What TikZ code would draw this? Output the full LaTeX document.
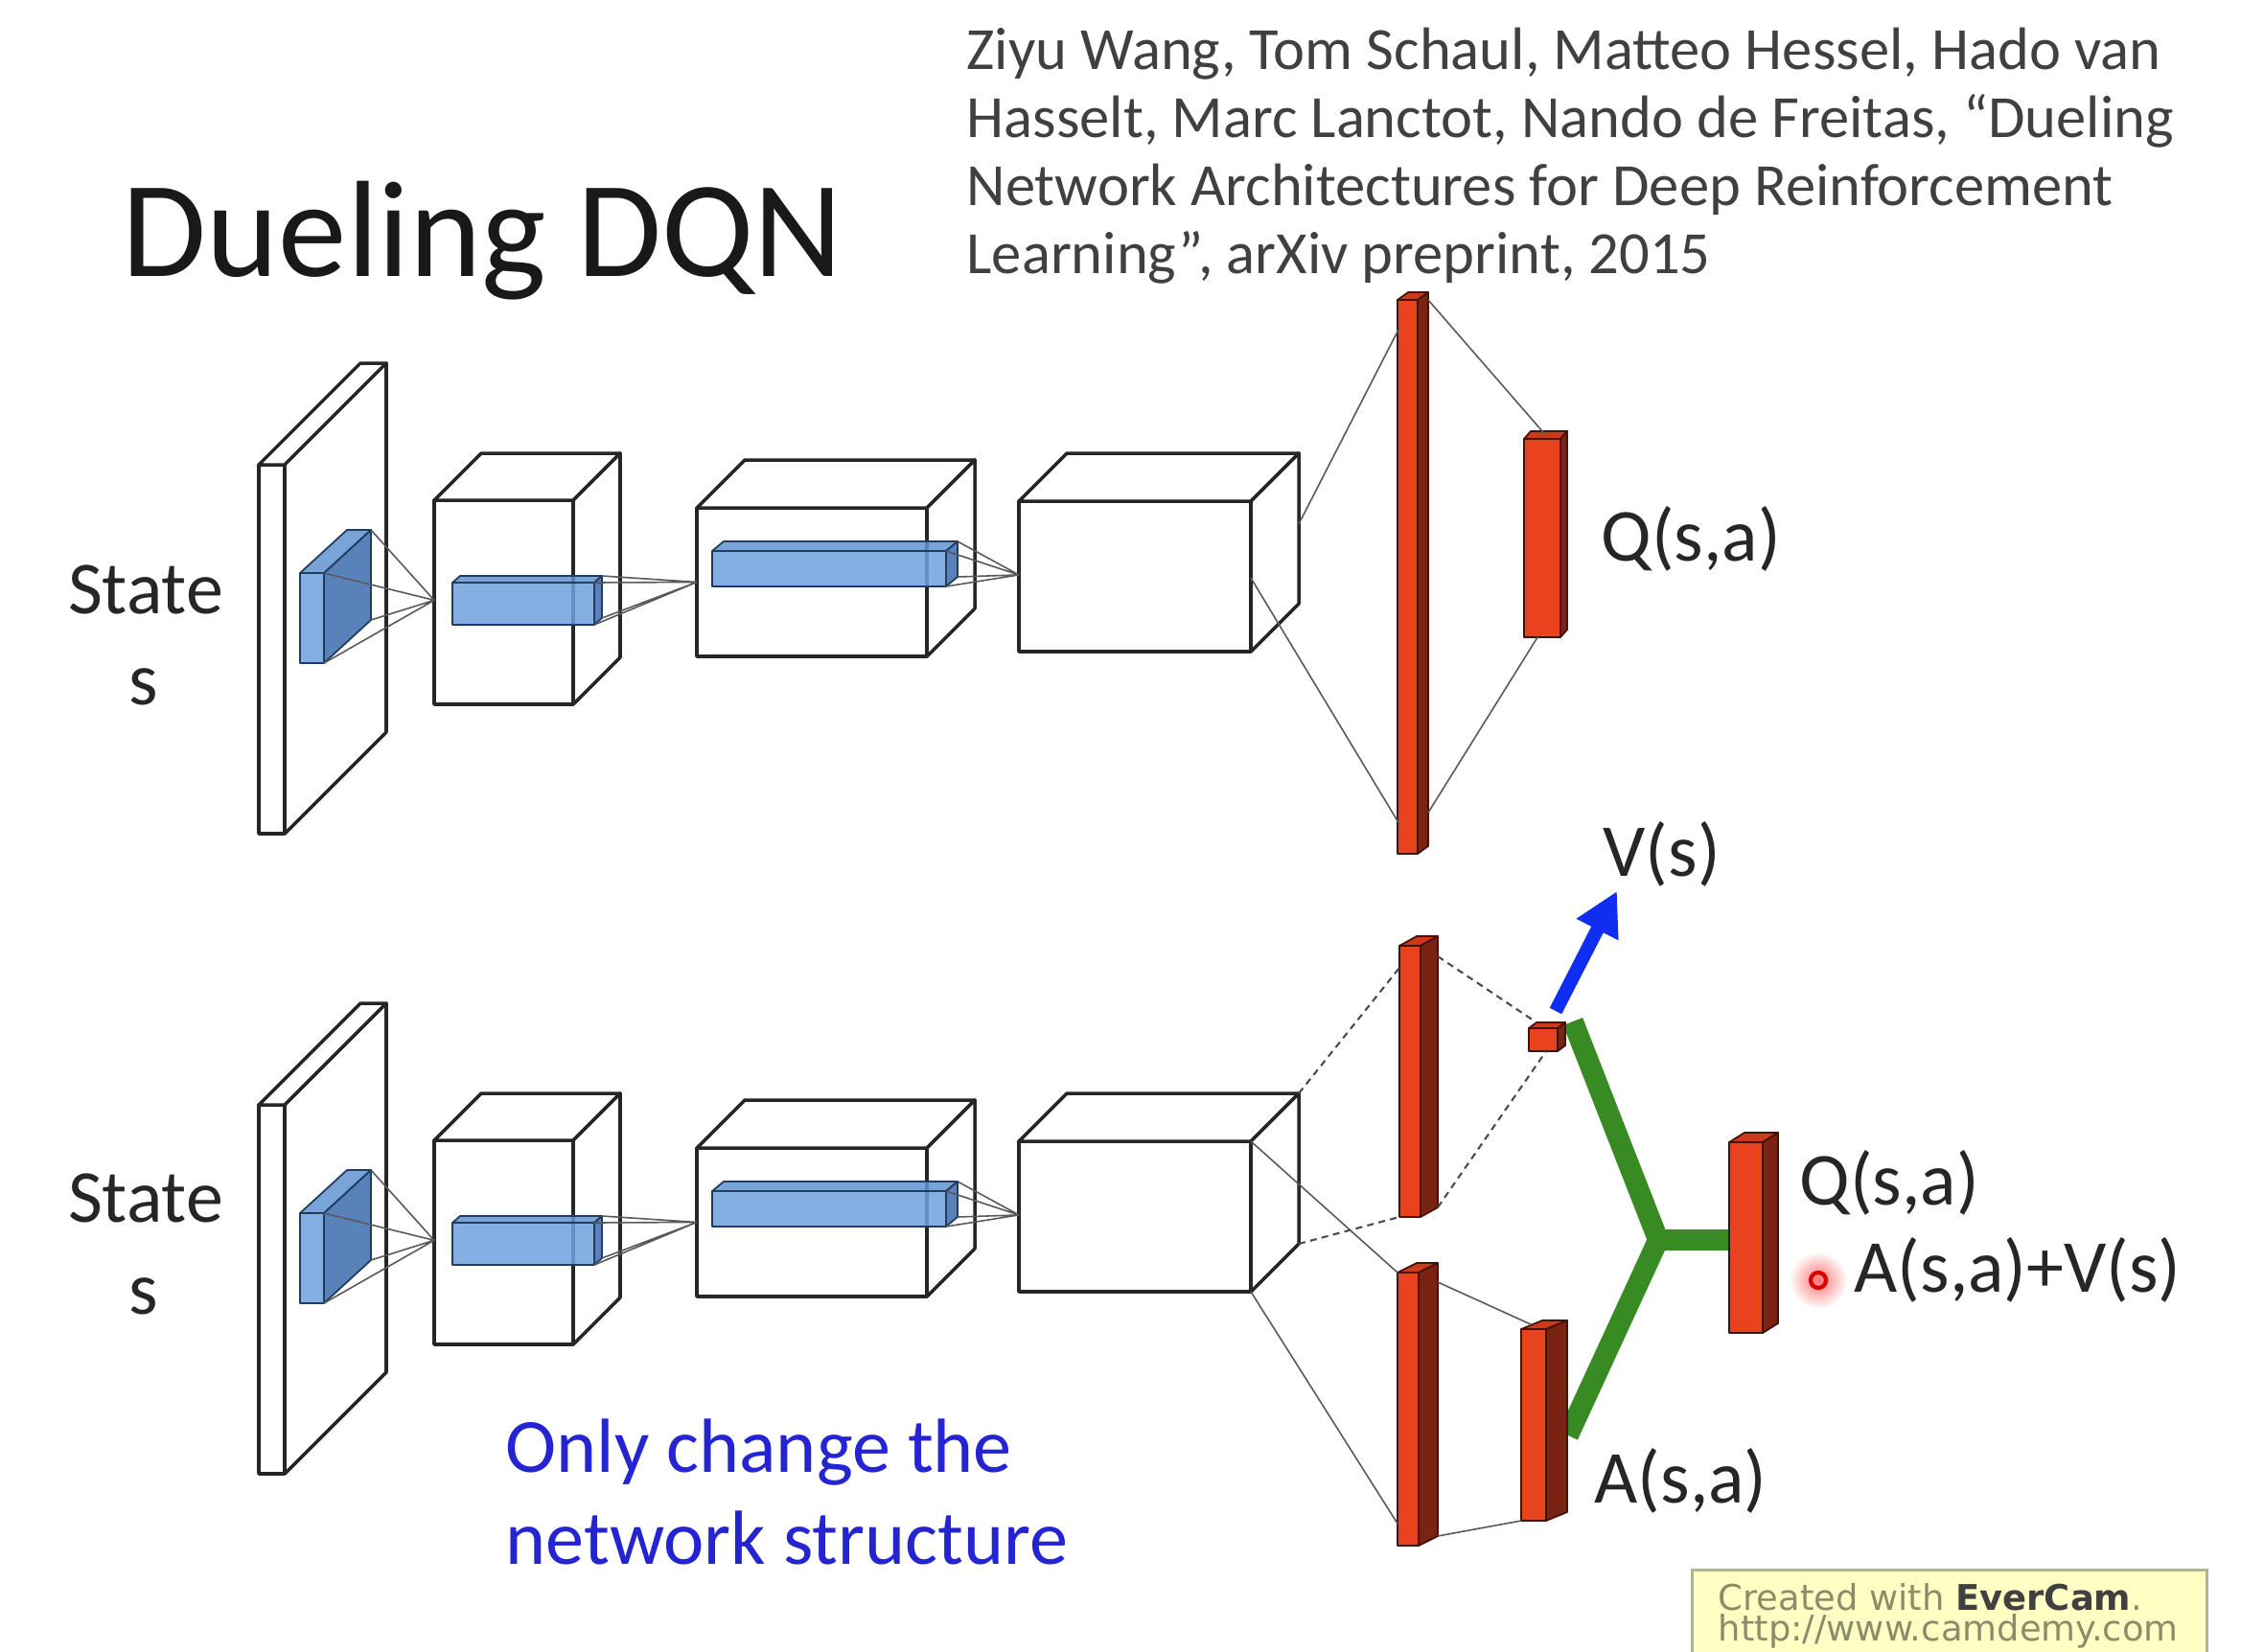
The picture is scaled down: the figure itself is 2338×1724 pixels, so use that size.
\documentclass[tikz,border=0pt]{standalone}
\usepackage{fontspec}
\setmainfont{Carlito}
\newfontfamily\stampfont{DejaVu Sans}
\usetikzlibrary{calc}
\usetikzlibrary{arrows.meta}
\definecolor{boxred}{HTML}{E8421E}
\definecolor{boxredside}{HTML}{7A2312}
\definecolor{boxblue}{HTML}{6EA2DE}
\definecolor{boxblueside}{HTML}{3E6DAF}
\definecolor{linkgreen}{HTML}{378B22}
\definecolor{arrowblue}{HTML}{0F2EF2}
\definecolor{noteblue}{HTML}{2424D2}
\definecolor{textgray}{HTML}{262626}
\definecolor{stamppaper}{HTML}{FFFFC4}
\definecolor{stampedge}{HTML}{B4B494}
\definecolor{stamptext}{HTML}{8C8C6C}
% white box: name, x, y (front top left), width, height, depth
\newcommand{\cube}[6]{
  \coordinate (#1-ftl) at (#2,#3);
  \coordinate (#1-ftr) at (#2+#4,#3);
  \coordinate (#1-fbl) at (#2,#3+#5);
  \coordinate (#1-fbr) at (#2+#4,#3+#5);
  \coordinate (#1-btl) at (#2+#6,#3-#6);
  \coordinate (#1-btr) at (#2+#4+#6,#3-#6);
  \coordinate (#1-bbr) at (#2+#4+#6,#3+#5-#6);
  \filldraw[cubeedge, fill=white] (#1-ftl) rectangle (#1-fbr);
  \filldraw[cubeedge, fill=white] (#1-ftl) -- (#1-btl) -- (#1-btr) -- (#1-ftr) -- cycle;
  \filldraw[cubeedge, fill=white] (#1-ftr) -- (#1-btr) -- (#1-bbr) -- (#1-fbr) -- cycle;}
% coloured box: name, x, y, width, height, dx, dy, front colour, side colour
\newcommand{\brick}[9]{
  \coordinate (#1-ftl) at (#2,#3);
  \coordinate (#1-ftr) at (#2+#4,#3);
  \coordinate (#1-fbl) at (#2,#3+#5);
  \coordinate (#1-fbr) at (#2+#4,#3+#5);
  \coordinate (#1-btl) at (#2+#6,#3-#7);
  \coordinate (#1-btr) at (#2+#4+#6,#3-#7);
  \coordinate (#1-bbr) at (#2+#4+#6,#3+#5-#7);
  \filldraw[brickedge=#9, fill=#8] (#1-ftl) rectangle (#1-fbr);
  \filldraw[brickedge=#9, fill=#8!75!#9] (#1-ftl) -- (#1-btl) -- (#1-btr) -- (#1-ftr) -- cycle;
  \filldraw[brickedge=#9, fill=#9] (#1-ftr) -- (#1-btr) -- (#1-bbr) -- (#1-fbr) -- cycle;}
\tikzset{
  cubeedge/.style={draw=black!85, line width=1pt, line join=round},
  brickedge/.style={draw=#1!55!black, line width=0.5pt, line join=round},
  wire/.style={draw=black!65, line width=0.45pt},
  dashwire/.style={draw=black!70, line width=0.6pt, dash pattern=on 2pt off 1.5pt},
  stream/.style={draw=linkgreen, line width=6.2pt, line join=miter},
  netlabel/.style={font=\fontsize{22.2pt}{26pt}\selectfont, text=textgray, inner sep=0pt},
  citeline/.style={font=\fontsize{17.8pt}{20pt}\selectfont, text=black!75, inner sep=0pt, anchor=base west},
  noteline/.style={font=\fontsize{22.8pt}{27pt}\selectfont, text=noteblue, inner sep=0pt, anchor=base west},
  stampline/.style={font=\stampfont\fontsize{10.5pt}{12pt}\selectfont, text=stamptext, inner sep=0pt, anchor=base west}
}

\begin{document}
\begin{tikzpicture}[x=0.1mm, y=-0.1mm]
    \useasboundingbox[fill=white] (0,0) rectangle (2338,1724);
    % title and reference
    \node[anchor=base west, inner sep=0pt, font=\fontsize{40.7pt}{48pt}\selectfont, text=black!90] (title) at (127,288) {Dueling DQN};
    \node[citeline] (cite1) at (1008,72) {Ziyu Wang, Tom Schaul, Matteo Hessel, Hado van};
    \node[citeline] (cite2) at (1008,143) {Hasselt, Marc Lanctot, Nando de Freitas, “Dueling};
    \node[citeline] (cite3) at (1008,214) {Network Architectures for Deep Reinforcement};
    \node[citeline] (cite4) at (1008,285) {Learning”, arXiv preprint, 2015};

    % upper network: DQN
    \cube{slabA}{270}{485}{27}{385}{106}
    \cube{convA1}{453}{522}{145}{213}{49}
    \cube{convA2}{727}{530}{240}{155}{50}
    \cube{convA3}{1063}{523}{242}{157}{50}
    \begin{scope}[fill opacity=0.85]
        \brick{filtA0}{313}{598}{25}{94}{49}{45}{boxblue}{boxblueside}
        \brick{filtA1}{472}{608}{148}{44}{8}{7}{boxblue}{boxblueside}
        \brick{filtA2}{743}{575}{244}{37}{12}{10}{boxblue}{boxblueside}
    \end{scope}
    \coordinate (meetA1) at ($(convA1-ftl)!0.49!(convA1-fbl)$);
    \coordinate (meetA2) at ($(convA2-ftl)!0.5!(convA2-fbl)$);
    \coordinate (meetA3) at ($(convA3-ftl)!0.49!(convA3-fbl)$);
    \draw[wire] (filtA0-btr) -- (meetA1) (filtA0-ftr) -- (meetA1) (filtA0-fbr) -- (meetA1) (filtA0-bbr) -- (meetA1);
    \draw[wire] (filtA1-btr) -- (meetA2) (filtA1-ftr) -- (meetA2) (filtA1-fbr) -- (meetA2) (filtA1-bbr) -- (meetA2);
    \draw[wire] (filtA2-btr) -- (meetA3) (filtA2-ftr) -- (meetA3) (filtA2-fbr) -- (meetA3) (filtA2-bbr) -- (meetA3);
    \brick{fcA1}{1458}{313}{21}{578}{11}{8}{boxred}{boxredside}
    \brick{outA}{1590}{458}{38}{207}{7}{8}{boxred}{boxredside}
    \draw[wire] ($(convA3-btr)!0.47!(convA3-bbr)$) -- ($(fcA1-ftl)+(2,29)$);
    \draw[wire] ($(convA3-ftr)!0.51!(convA3-fbr)$) -- ($(fcA1-fbl)+(2,-31)$);
    \draw[wire] ($(fcA1-btr)+(0,8)$) -- ($(outA-ftl)!0.5!(outA-btr)$);
    \draw[wire] ($(fcA1-bbr)+(0,-35)$) -- ($(outA-fbl)!0.37!(outA-fbr)$);
    \node[netlabel, anchor=base] (stateA) at (152,640) {State};
    \node[netlabel, anchor=base] (sA) at (150,735) {s};
    \node[netlabel, anchor=base west] (qA) at (1670,585) {Q(s,a)};

    % lower network: dueling
    \cube{slabB}{270}{1153}{27}{385}{106}
    \cube{convB1}{453}{1190}{145}{213}{49}
    \cube{convB2}{727}{1198}{240}{155}{50}
    \cube{convB3}{1063}{1191}{242}{157}{50}
    \begin{scope}[fill opacity=0.85]
        \brick{filtB0}{313}{1266}{25}{94}{49}{45}{boxblue}{boxblueside}
        \brick{filtB1}{472}{1276}{148}{44}{8}{7}{boxblue}{boxblueside}
        \brick{filtB2}{743}{1243}{244}{37}{12}{10}{boxblue}{boxblueside}
    \end{scope}
    \coordinate (meetB1) at ($(convB1-ftl)!0.49!(convB1-fbl)$);
    \coordinate (meetB2) at ($(convB2-ftl)!0.5!(convB2-fbl)$);
    \coordinate (meetB3) at ($(convB3-ftl)!0.49!(convB3-fbl)$);
    \draw[wire] (filtB0-btr) -- (meetB1) (filtB0-ftr) -- (meetB1) (filtB0-fbr) -- (meetB1) (filtB0-bbr) -- (meetB1);
    \draw[wire] (filtB1-btr) -- (meetB2) (filtB1-ftr) -- (meetB2) (filtB1-fbr) -- (meetB2) (filtB1-bbr) -- (meetB2);
    \draw[wire] (filtB2-btr) -- (meetB3) (filtB2-ftr) -- (meetB3) (filtB2-fbr) -- (meetB3) (filtB2-bbr) -- (meetB3);
    % value stream (dashed) and advantage stream
    \coordinate (merge) at (1730,1294);
    \coordinate (vtip) at (1687,930);
    \draw[stream] (1641,1066) -- (merge) -- (1636,1498);
    \draw[stream] (merge) -- (1806,1294);
    \brick{valB1}{1460}{987}{22}{283}{18}{10}{boxred}{boxredside}
    \brick{valB2}{1595}{1073}{30}{24}{8}{6}{boxred}{boxredside}
    \brick{advB1}{1458}{1328}{22}{285}{20}{10}{boxred}{boxredside}
    \brick{advB2}{1587}{1387}{26}{200}{22}{9}{boxred}{boxredside}
    \brick{outB}{1804}{1192}{35}{199}{16}{10}{boxred}{boxredside}
    \draw[dashwire] (convB3-btr) -- ($(valB1-ftl)+(0,23)$);
    \draw[dashwire] (convB3-bbr) -- (valB1-fbl);
    \draw[dashwire] ($(valB1-btr)+(0,21)$) -- (valB2-btl);
    \draw[dashwire] (valB1-bbr) -- ($(valB2-fbl)!0.6!(valB2-fbr)$);
    \draw[wire] (convB3-ftr) -- (advB1-ftl);
    \draw[wire] (convB3-fbr) -- ($(advB1-fbl)+(0,-23)$);
    \draw[wire] ($(advB1-btr)+(0,20)$) -- ($(advB2-ftl)!0.5!(advB2-btl)$);
    \draw[wire] (advB1-bbr) -- (advB2-fbl);
    \draw[arrowblue, line width=4pt, -{Triangle[length=4.5mm, width=4.6mm]}] ($(valB2-btr)+(-10,-12)$) -- (vtip);
    \node[netlabel, anchor=base] (stateB) at (152,1275) {State};
    \node[netlabel, anchor=base] (sB) at (150,1371) {s};
    \node[netlabel, anchor=base west] (vB) at (1672,914) {V(s)};
    \node[netlabel, anchor=base west] (qB) at (1877,1257) {Q(s,a)};
    \node[netlabel, anchor=base west] (qsum) at (1934,1348) {A(s,a)+V(s)};
    \node[netlabel, anchor=base west] (aB) at (1663,1568) {A(s,a)};
    \node[noteline] (note1) at (527,1536) {Only change the};
    \node[noteline] (note2) at (527,1632) {network structure};

    % pointer mark
    \coordinate (cursor) at (1897,1336);
    \shade[inner color=red!55, outer color=white] (cursor) circle (3mm);
    \draw[red!85!black, line width=1.2pt] (cursor) circle (0.8mm);

    % recorder stamp
    \node[draw=stampedge, fill=stamppaper, line width=0.8pt, anchor=north west, minimum width=53.7mm, minimum height=12mm, inner sep=0pt] (stamp) at (1764,1637) {};
    \node[stampline] (stamp1) at (1792,1680) {Created with \textcolor{black!75}{\textbf{EverCam}}.};
    \node[stampline] (stamp2) at (1792,1712) {http://www.camdemy.com};
\end{tikzpicture}
\end{document}
